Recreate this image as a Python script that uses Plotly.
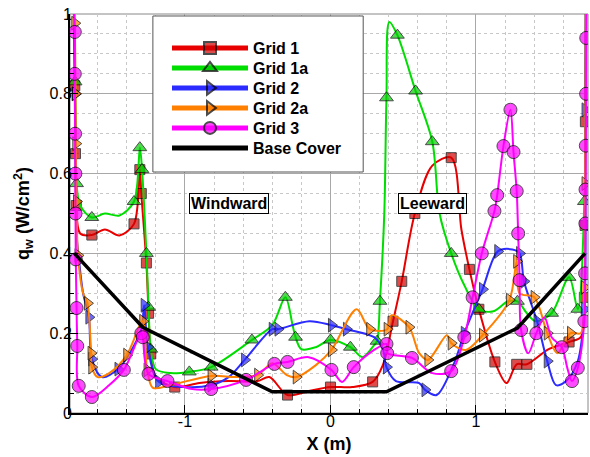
import plotly.graph_objects as go

# ---------------- data (x in m, q_w in W/cm^2, marker flag) ----------------
g1_x = [-1.765,-1.757,-1.752,-1.747,-1.72,-1.64,-1.55,-1.45,-1.35,-1.31,-1.30,-1.265,-1.25,-1.235,-1.2,-1.07,-0.9,-0.7,-0.5,-0.42,-0.295,-0.15,0.0,0.15,0.29,0.36,0.43,0.49,0.58,0.70,0.83,0.90,0.955,1.02,1.13,1.21,1.28,1.35,1.5,1.64,1.72,1.745,1.75,1.752,1.755]
g1_y = [1.05,0.82,0.65,0.52,0.45,0.446,0.46,0.445,0.474,0.61,0.55,0.376,0.25,0.148,0.09,0.065,0.075,0.08,0.08,0.09,0.045,0.055,0.065,0.065,0.078,0.12,0.23,0.33,0.50,0.62,0.64,0.46,0.36,0.26,0.128,0.075,0.122,0.122,0.16,0.178,0.19,0.29,0.47,0.73,1.05]
g1_m = [1,1,1,1,0,1,0,0,1,1,1,1,1,1,0,1,0,0,0,0,1,0,1,0,1,0,1,1,1,0,1,0,1,1,1,0,1,1,0,1,0,1,1,1,0]

g1a_x = [-1.765,-1.755,-1.75,-1.745,-1.72,-1.64,-1.55,-1.45,-1.35,-1.31,-1.295,-1.265,-1.25,-1.235,-1.2,-1.1,-0.97,-0.82,-0.54,-0.40,-0.31,-0.26,-0.24,-0.2,-0.1,0.0,0.137,0.22,0.30,0.32,0.34,0.37,0.385,0.405,0.46,0.585,0.70,0.75,0.83,0.92,1.02,1.12,1.22,1.285,1.35,1.41,1.52,1.64,1.70,1.745,1.755]
g1a_y = [1.05,0.83,0.70,0.575,0.52,0.49,0.50,0.495,0.53,0.665,0.61,0.40,0.265,0.16,0.11,0.10,0.103,0.115,0.183,0.22,0.29,0.22,0.19,0.16,0.165,0.183,0.165,0.14,0.17,0.18,0.28,0.50,0.79,0.98,0.947,0.807,0.68,0.50,0.40,0.32,0.26,0.255,0.28,0.28,0.25,0.23,0.25,0.34,0.26,0.53,1.05]
g1a_m = [1,1,0,1,0,1,0,0,1,1,1,1,1,1,0,0,1,1,1,0,1,0,1,0,0,1,1,0,0,1,1,0,1,0,1,1,1,0,1,0,1,0,0,1,0,0,1,1,1,1,0]

g2_x = [-1.765,-1.755,-1.75,-1.745,-1.73,-1.70,-1.66,-1.64,-1.57,-1.46,-1.38,-1.30,-1.28,-1.255,-1.18,-1.0,-0.82,-0.70,-0.59,-0.40,-0.36,-0.145,0.007,0.11,0.30,0.36,0.385,0.45,0.61,0.65,0.73,0.85,0.92,1.045,1.15,1.25,1.30,1.33,1.42,1.49,1.55,1.62,1.70,1.745,1.75,1.755]
g2_y = [1.05,0.80,0.60,0.45,0.39,0.30,0.24,0.135,0.09,0.11,0.15,0.21,0.27,0.165,0.078,0.065,0.07,0.09,0.133,0.21,0.21,0.23,0.22,0.21,0.19,0.16,0.115,0.08,0.075,0.058,0.045,0.125,0.20,0.31,0.405,0.41,0.40,0.33,0.23,0.13,0.07,0.08,0.13,0.26,0.76,1.05]
g2_m = [1,1,0,0,0,0,1,1,0,1,0,0,1,1,1,0,1,0,1,1,1,0,1,1,0,0,1,0,0,1,0,0,1,1,1,0,1,1,1,1,0,0,0,1,1,0]

g2a_x = [-1.765,-1.757,-1.752,-1.75,-1.745,-1.735,-1.70,-1.67,-1.645,-1.64,-1.60,-1.52,-1.40,-1.29,-1.26,-1.22,-1.1,-0.82,-0.65,-0.50,-0.40,-0.30,-0.235,-0.1,0.007,0.18,0.27,0.39,0.42,0.54,0.61,0.67,0.80,0.83,0.93,1.045,1.23,1.28,1.30,1.40,1.49,1.56,1.65,1.72,1.745,1.75,1.755]
g2a_y = [1.05,0.977,0.80,0.675,0.53,0.395,0.30,0.275,0.15,0.115,0.09,0.10,0.145,0.23,0.108,0.063,0.07,0.093,0.09,0.095,0.125,0.095,0.09,0.12,0.158,0.26,0.21,0.21,0.245,0.215,0.15,0.133,0.195,0.175,0.158,0.195,0.283,0.38,0.30,0.29,0.20,0.15,0.20,0.20,0.315,0.575,1.05]
g2a_m = [1,1,1,1,1,1,0,1,1,1,0,0,1,1,1,0,0,1,0,1,0,0,1,0,1,0,1,1,0,1,0,1,0,1,0,1,1,1,0,1,1,0,1,0,1,1,0]

g3_x = [-1.765,-1.757,-1.757,-1.755,-1.753,-1.752,-1.75,-1.745,-1.74,-1.73,-1.64,-1.52,-1.42,-1.30,-1.29,-1.25,-1.12,-0.95,-0.82,-0.58,-0.385,-0.295,-0.15,0.007,0.08,0.16,0.30,0.385,0.39,0.56,0.70,0.83,0.92,0.977,1.04,1.127,1.146,1.189,1.237,1.258,1.28,1.29,1.30,1.31,1.36,1.415,1.47,1.52,1.59,1.63,1.66,1.70,1.745,1.75,1.752,1.753,1.755,1.757,1.758,1.76]
g3_y = [1.05,0.955,0.85,0.70,0.60,0.50,0.385,0.263,0.168,0.068,0.04,0.07,0.108,0.20,0.19,0.098,0.08,0.06,0.06,0.083,0.123,0.128,0.14,0.108,0.078,0.115,0.158,0.173,0.15,0.138,0.10,0.105,0.19,0.29,0.40,0.506,0.546,0.669,0.76,0.654,0.556,0.45,0.333,0.208,0.15,0.20,0.24,0.19,0.165,0.11,0.08,0.113,0.23,0.35,0.475,0.56,0.67,0.80,0.94,1.05]
g3_m = [1,1,1,1,1,1,1,1,1,1,1,0,1,1,1,1,1,0,1,1,1,1,0,1,0,1,0,1,1,1,0,1,1,1,1,1,1,1,1,1,1,1,1,1,0,1,0,0,1,0,1,1,1,1,1,1,1,1,1,0]

base_x = [-1.76, -1.29, -0.40, 0.385, 1.285, 1.75]
base_y = [0.40, 0.215, 0.053, 0.053, 0.213, 0.40]

series = [
    ("Grid 1",  g1_x,  g1_y,  g1_m,  "#e80000", "#d00000", "square",      10),
    ("Grid 1a", g1a_x, g1a_y, g1a_m, "#00dd00", "#00cc00", "triangle-up", 12),
    ("Grid 2",  g2_x,  g2_y,  g2_m,  "#2b2bff", "#2b2bff", "triangle-right", 12),
    ("Grid 2a", g2a_x, g2a_y, g2a_m, "#ff8000", "#ff8000", "triangle-right", 12),
    ("Grid 3",  g3_x,  g3_y,  g3_m,  "#ff00ff", "#ff00ff", "circle",      13),
]

annotations_text = [("Windward", -0.694, 0.526), ("Leeward", 0.70, 0.526)]

FONT = "Liberation Sans, Arial"

# plot area in px (for placing legend rows)
PL, PR, PT, PB = 70, 588, 14, 413
legend_ids = ["legend", "legend2", "legend3", "legend4", "legend5", "legend6"]

fig = go.Figure()
for i, (name, xs, ys, ms, lc, fc, sym, sz) in enumerate(series):
    fig.add_trace(go.Scatter(
        x=xs, y=ys, name="<b>%s</b>" % name, mode="lines+markers",
        legend=legend_ids[i], showlegend=True,
        line=dict(color=lc, width=2, shape="spline", smoothing=0.9),
        marker=dict(symbol=sym, color=fc,
                    size=[sz if m else 0 for m in ms],
                    line=dict(color="black", width=[1 if m else 0 for m in ms])),
    ))
fig.add_trace(go.Scatter(x=base_x, y=base_y, name="<b>Base Cover</b>", mode="lines",
                         legend=legend_ids[5], showlegend=True,
                         line=dict(color="black", width=3.5)))

for txt, ax, ay in annotations_text:
    fig.add_annotation(x=ax, y=ay, text="<b>%s</b>" % txt, showarrow=False,
                       font=dict(family=FONT, size=16, color="black"),
                       bgcolor="white", bordercolor="black", borderwidth=1, borderpad=1)

# legend frame
fig.add_shape(type="rect", xref="paper", yref="paper", x0=0.160, x1=0.566, y0=0.604, y1=0.995,
              line=dict(color="#555555", width=1), fillcolor="white", layer="above")
# outer plot frame (top/right thin gray)
fig.add_shape(type="rect", xref="paper", yref="paper", x0=0, x1=1, y0=0, y1=1,
              line=dict(color="#888888", width=1), layer="below")

axis_common = dict(showline=True, linecolor="black", linewidth=2, mirror=False,
                   ticks="inside", ticklen=8, tickwidth=1, tickcolor="black",
                   showgrid=True, gridcolor="#a8a8a8", gridwidth=1, zeroline=False,
                   automargin=False,
                   tickfont=dict(family=FONT, size=16, color="black"))

fig.update_xaxes(range=[-1.79, 1.77], tickvals=[-1, 0, 1], ticktext=["-1", "0", "1"],
                 ticklabelstandoff=-7,
                 minor=dict(dtick=0.2, tick0=0, ticks="inside", ticklen=4, tickcolor="black",
                            showgrid=True, gridcolor="#c8c8c8", griddash="dot", gridwidth=1),
                 title=dict(text="<b>X (m)</b>", standoff=8,
                            font=dict(family=FONT, size=18, color="black")),
                 **axis_common)
fig.update_yaxes(range=[0, 1], tickvals=[0, 0.2, 0.4, 0.6, 0.8, 1],
                 ticktext=["0", "0.2", "0.4", "0.6", "0.8", "1"],
                 ticklabelstandoff=-7,
                 minor=dict(dtick=0.05, tick0=0, ticks="inside", ticklen=4, tickcolor="black",
                            showgrid=True, gridcolor="#c8c8c8", griddash="dot", gridwidth=1),
                 title=dict(text="<b>q<sub>w</sub> (W/cm<sup>2</sup>)</b>", standoff=15,
                            font=dict(family=FONT, size=18, color="black")),
                 **axis_common)

legend_style = dict(xanchor="left", yanchor="middle", bgcolor="rgba(0,0,0,0)",
                    borderwidth=0, itemsizing="constant", itemwidth=76,
                    font=dict(family=FONT, size=16, color="black"))
layout_legends = {}
for k, lid in enumerate(legend_ids):
    row_px = 48 + 20 * k
    layout_legends[lid] = dict(x=(167 - PL) / (PR - PL), y=(PB - row_px) / (PB - PT),
                               visible=True, **legend_style)

fig.update_layout(
    width=590, height=457,
    margin=dict(l=PL, r=590 - PR, t=PT, b=457 - PB, autoexpand=False),
    plot_bgcolor="white", paper_bgcolor="white",
    showlegend=True,
    **layout_legends,
)

fig.write_html("out.html", config={"displayModeBar": False},
               post_script="document.body.style.margin='0';document.body.style.overflow='hidden';")
